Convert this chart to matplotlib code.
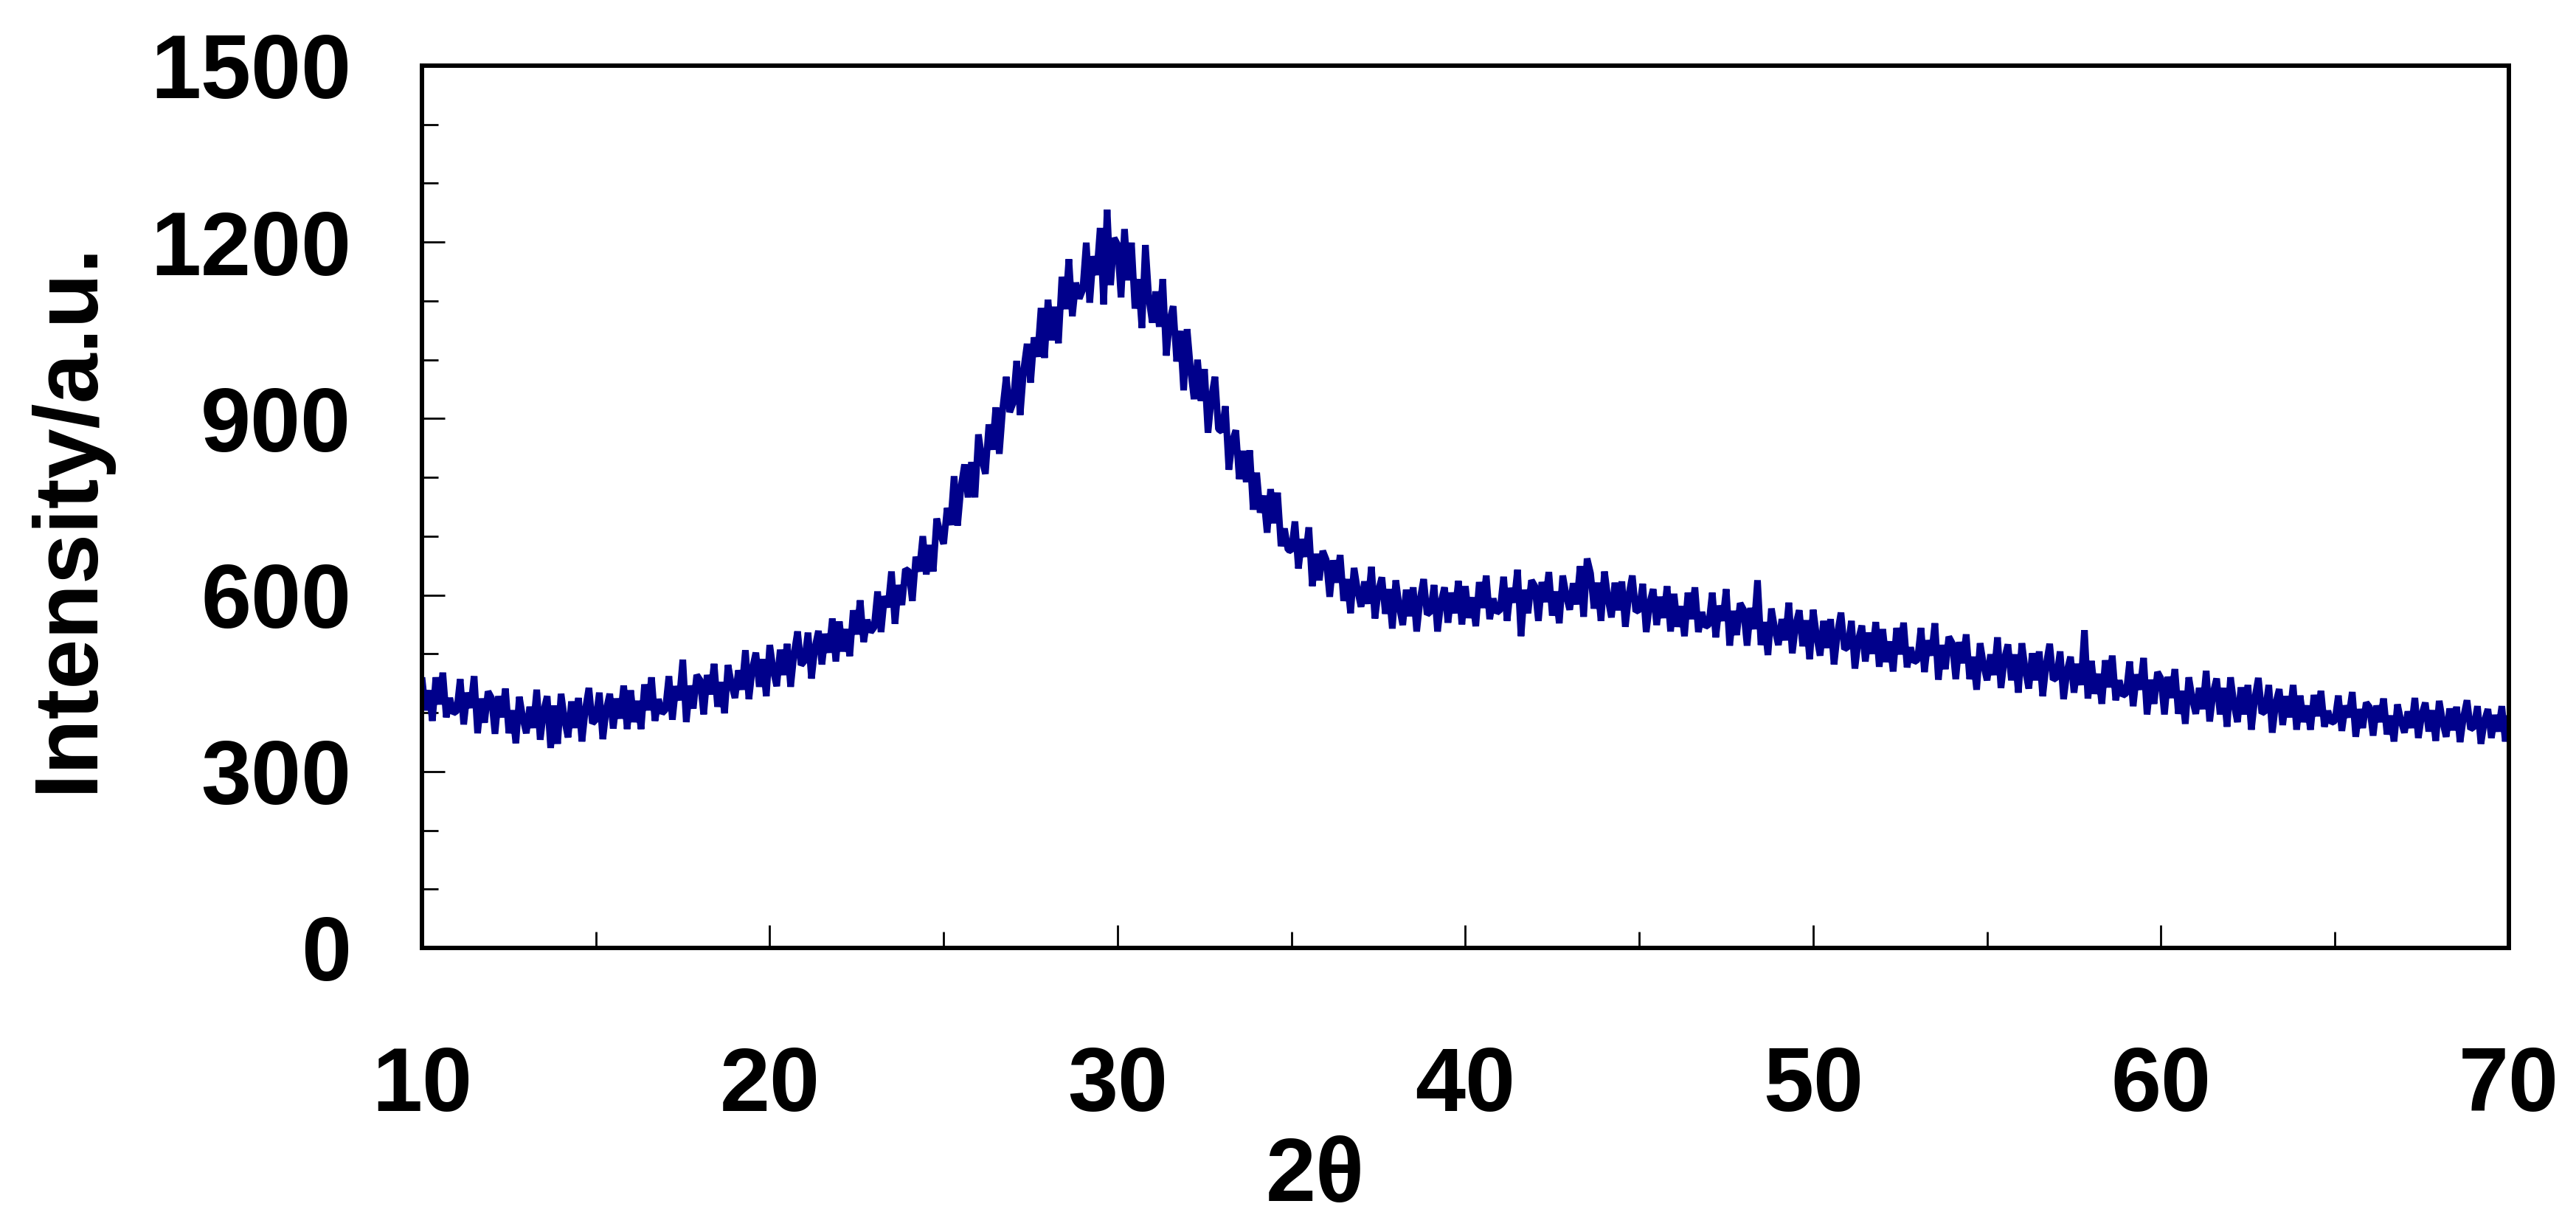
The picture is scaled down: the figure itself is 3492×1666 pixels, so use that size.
import matplotlib
matplotlib.use("Agg")
import matplotlib.pyplot as plt
import numpy as np

plt.rcParams['font.family'] = ['Liberation Sans', 'DejaVu Sans']
plt.rcParams['font.weight'] = 'bold'

# XRD scan, 10-70 deg 2theta, one row per degree (0.1 deg step)
intensity = [
    460, 404, 438, 386, 460, 414, 468, 392, 425, 399,   # 10
    403, 457, 380, 434, 408, 462, 365, 424, 383, 436,   # 11
    425, 364, 428, 392, 441, 365, 404, 348, 427, 391,   # 12
    365, 410, 374, 439, 354, 403, 428, 340, 412, 347,   # 13
    432, 388, 358, 419, 374, 425, 351, 406, 442, 382,   # 14
    388, 434, 355, 406, 432, 373, 424, 390, 446, 372,   # 15
    438, 384, 420, 372, 448, 404, 460, 386, 423, 399,   # 16
    405, 462, 388, 445, 421, 490, 384, 446, 407, 464,   # 17
    455, 397, 464, 431, 483, 410, 452, 399, 481, 448,   # 18
    425, 472, 439, 506, 423, 475, 502, 444, 491, 428,   # 19
    515, 472, 445, 507, 464, 517, 444, 501, 538, 481,   # 20
    488, 536, 458, 511, 539, 482, 534, 502, 560, 487,   # 21
    555, 504, 542, 496, 574, 533, 591, 520, 558, 537,   # 22
    545, 606, 537, 598, 579, 640, 551, 617, 583, 644,   # 23
    640, 590, 665, 640, 700, 635, 685, 640, 730, 705,   # 24
    687, 748, 719, 802, 718, 784, 822, 766, 826, 766,   # 25
    873, 831, 806, 890, 847, 919, 840, 918, 971, 911,   # 26
    927, 998, 906, 983, 1027, 961, 1038, 1005, 1088, 1003,   # 27
    1102, 1033, 1090, 1028, 1141, 1086, 1171, 1074, 1131, 1104,   # 28
    1119, 1199, 1097, 1176, 1144, 1224, 1094, 1255, 1127, 1207,   # 29
    1196, 1106, 1222, 1135, 1199, 1087, 1137, 1054, 1195, 1104,   # 30
    1063, 1116, 1056, 1137, 1007, 1067, 1091, 997, 1049, 948,   # 31
    1052, 983, 933, 1000, 930, 984, 876, 936, 971, 882,   # 32
    878, 921, 813, 862, 880, 797, 845, 792, 846, 745,   # 33
    808, 740, 769, 706, 780, 722, 774, 683, 713, 677,   # 34
    675, 725, 645, 695, 665, 715, 615, 670, 625, 675,   # 35
    660, 597, 659, 621, 668, 590, 627, 569, 646, 608,   # 36
    580, 623, 585, 648, 560, 608, 630, 568, 610, 543,   # 37
    625, 580, 549, 609, 564, 613, 538, 593, 627, 567,   # 38
    572, 617, 538, 588, 613, 553, 604, 569, 624, 550,   # 39
    615, 561, 596, 547, 622, 578, 633, 559, 594, 570,   # 40
    575, 631, 556, 612, 587, 643, 530, 609, 569, 625,   # 41
    615, 556, 622, 588, 639, 565, 606, 552, 633, 599,   # 42
    575, 620, 584, 649, 563, 662, 637, 577, 621, 556,   # 43
    640, 594, 562, 621, 574, 623, 546, 600, 633, 572,   # 44
    575, 619, 537, 586, 610, 549, 597, 561, 615, 538,   # 45
    602, 546, 581, 530, 604, 559, 613, 537, 571, 546,   # 46
    550, 604, 528, 582, 556, 610, 514, 573, 532, 586,   # 47
    575, 514, 578, 542, 625, 515, 554, 498, 577, 541,   # 48
    515, 559, 523, 587, 501, 550, 574, 513, 557, 491,   # 49
    575, 529, 497, 556, 510, 559, 482, 536, 570, 508,   # 50
    512, 556, 475, 524, 548, 487, 536, 500, 554, 478,   # 51
    542, 486, 521, 470, 544, 499, 553, 477, 511, 486,   # 52
    490, 544, 469, 523, 497, 552, 456, 515, 474, 529,   # 53
    518, 457, 520, 484, 533, 457, 495, 439, 518, 481,   # 54
    455, 499, 464, 528, 442, 492, 516, 455, 499, 434,   # 55
    518, 472, 441, 501, 455, 504, 428, 482, 517, 456,   # 56
    460, 504, 423, 471, 495, 434, 483, 447, 540, 424,   # 57
    488, 432, 466, 415, 489, 443, 497, 421, 455, 429,   # 58
    433, 487, 411, 465, 439, 493, 397, 456, 415, 469,   # 59
    458, 397, 461, 425, 474, 398, 437, 381, 460, 424,   # 60
    398, 442, 406, 471, 385, 434, 458, 397, 442, 376,   # 61
    460, 414, 384, 443, 397, 447, 371, 425, 459, 399,   # 62
    403, 447, 366, 416, 440, 379, 428, 392, 447, 371,   # 63
    429, 384, 412, 371, 430, 394, 437, 376, 403, 383,   # 64
    386, 429, 369, 412, 392, 435, 359, 406, 374, 417,   # 65
    409, 361, 412, 384, 424, 363, 395, 351, 414, 386,   # 66
    366, 402, 374, 425, 357, 397, 417, 368, 404, 352,   # 67
    420, 384, 359, 407, 370, 410, 350, 393, 421, 372,   # 68
    376, 411, 347, 386, 406, 357, 396, 368, 411, 351,   # 69
    395,                                                # 70
]
two_theta = np.linspace(10, 70, len(intensity))

x_ticks = [10, 20, 30, 40, 50, 60, 70]
x_minor = [15, 25, 35, 45, 55, 65]
y_ticks = [0, 300, 600, 900, 1200, 1500]
y_minor = [100, 200, 400, 500, 700, 800, 1000, 1100, 1300, 1400]

fig = plt.figure(figsize=(34.92, 16.66), dpi=100)
ax = fig.add_axes([0.1638, 0.2287, 0.8101, 0.7179])
ax.plot(two_theta, intensity, color='#00008B', lw=6.5,
        solid_joinstyle='bevel', solid_capstyle='butt')

ax.set_xlim(10, 70)
ax.set_ylim(0, 1500)
ax.set_xticks(x_ticks)
ax.set_xticks(x_minor, minor=True)
ax.set_yticks(y_ticks)
ax.set_yticks(y_minor, minor=True)
ax.tick_params(which='both', direction='in', top=False, right=False, width=2, color='black')
ax.tick_params(which='major', length=22)
ax.tick_params(which='minor', length=16)
ax.tick_params(axis='x', pad=95, labelsize=88)
ax.tick_params(axis='y', pad=69, labelsize=88)
for s in ax.spines.values():
    s.set_linewidth(4.3)

fig.text(1783 / 3492, 38 / 1666, '2θ', fontsize=88, fontweight='bold',
         ha='center', va='baseline')
fig.text(125 / 3492, 1 - 700 / 1666, 'Intensity/a.u.', fontsize=88, fontweight='bold',
         rotation=90, rotation_mode='anchor', ha='center', va='baseline')

fig.savefig('out.png', dpi=100)
